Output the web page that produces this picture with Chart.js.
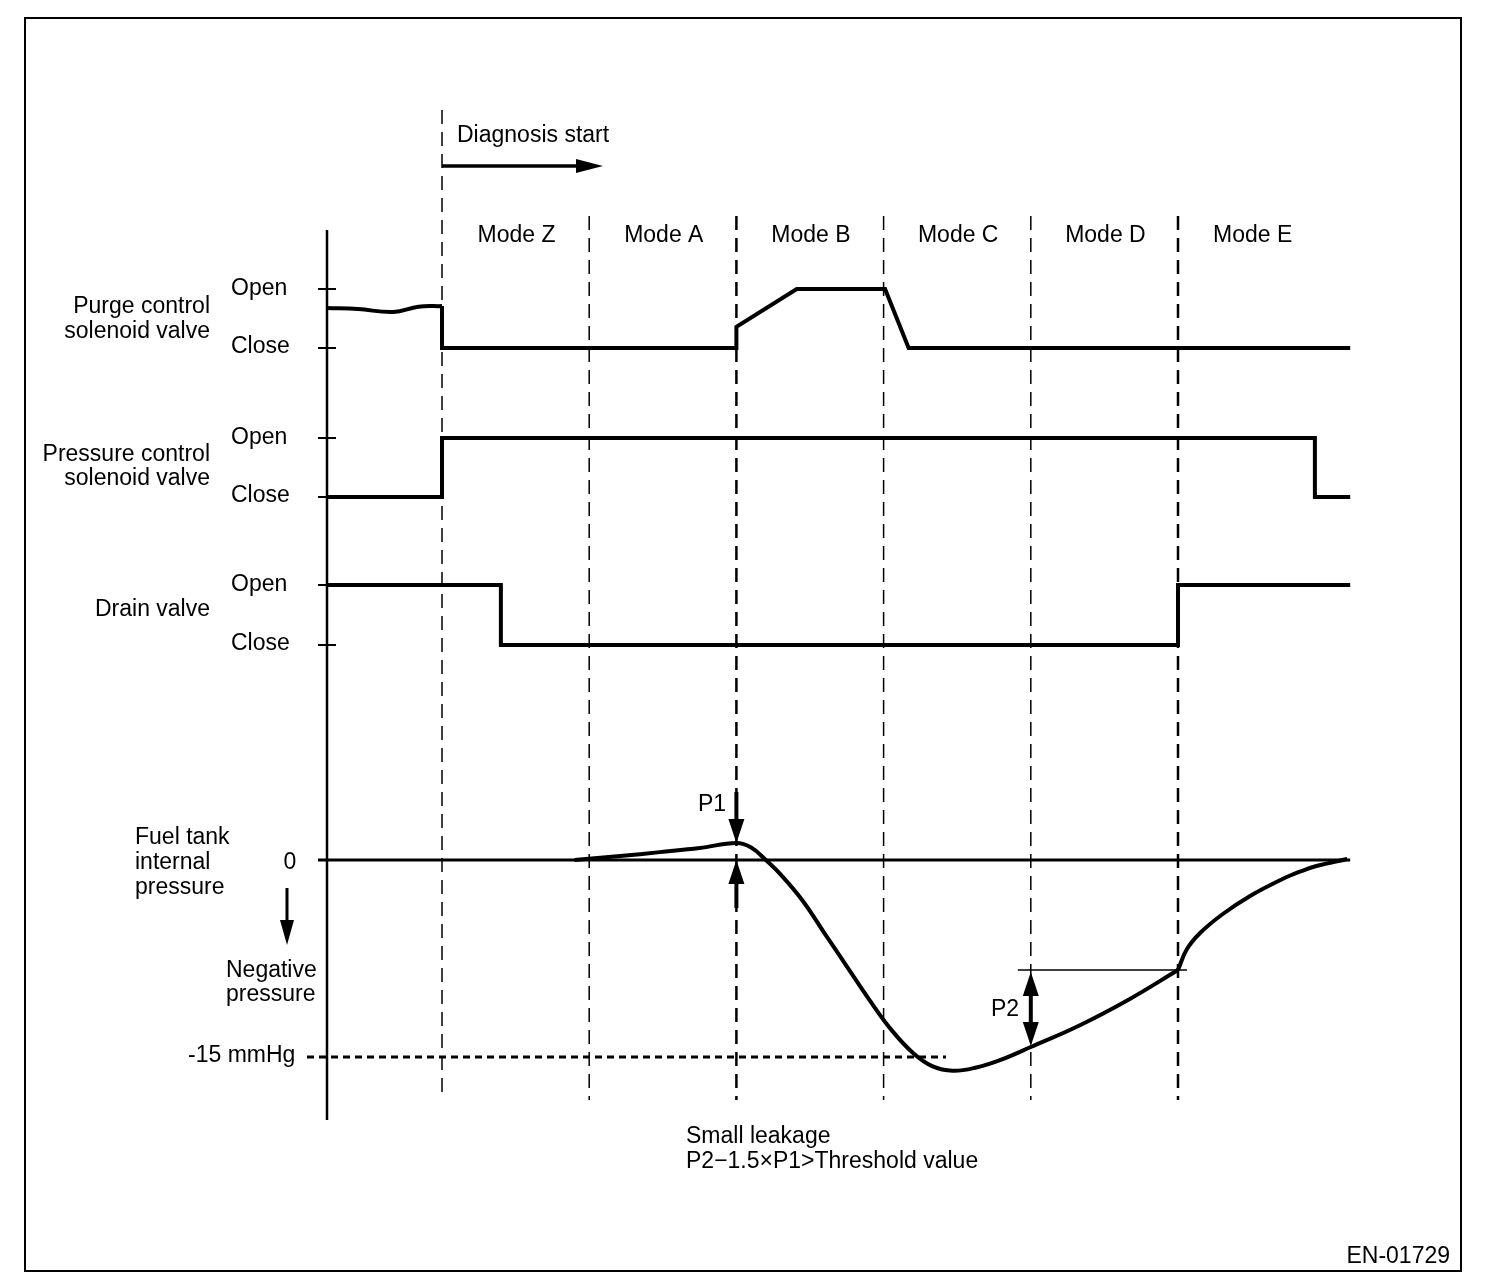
<!DOCTYPE html>
<html>
<head>
<meta charset="utf-8">
<script src="https://cdn.jsdelivr.net/npm/chart.js@4"></script>
<style>
  body { margin: 0; background: #fff; }
  canvas { display: block; }
</style>
</head>
<body>
<canvas id="myChart" width="1504" height="1288"></canvas>
<script>
// time axis: one unit = one mode, Mode Z starts at 0
const modeNames = ['Mode Z', 'Mode A', 'Mode B', 'Mode C', 'Mode D', 'Mode E'];
const modeEdges = [0, 1, 2, 3, 4, 5];

// valve states: 0 = Close, 1 = Open
// purge valve: wavy lead-in before diagnosis, then the step trace
const purgeLeadTime  = [-0.78, -0.57, -0.33, -0.16, 0];
const purgeLeadState = [0.68, 0.66, 0.61, 0.70, 0.71];
const purgeTime  = [0, 0, 2, 2, 2.41, 3.01, 3.17, 6.17];
const purgeState = [0.71, 0, 0, 0.36, 1, 1, 0, 0];

const pressTime  = [-0.78, 0, 0, 5.93, 5.93, 6.17];
const pressState = [0, 0, 1, 1, 0, 0];

const drainTime  = [-0.78, 0.40, 0.40, 5, 5, 6.17];
const drainState = [1, 1, 0, 0, 1, 1];

// fuel tank internal pressure, mmHg
const fuelTime  = [0.90, 1.21, 1.48, 1.75, 2.00, 2.10, 2.20, 2.30, 2.45, 2.60, 2.75, 2.90, 3.05, 3.20, 3.33, 3.47,
                   3.63, 3.80, 4.00, 4.33, 4.67, 5.00,
                   5.06, 5.15, 5.30, 5.49, 5.71, 5.83, 5.94, 6.15];
const fuelMmHg  = [0, 0.3, 0.6, 0.91, 1.29, 0.95, 0.0, -1.1, -3.1, -5.6, -8.1, -10.6, -12.9, -14.7, -15.7, -16.05,
                   -15.8, -15.2, -14.24, -12.6, -10.6, -8.38,
                   -6.8, -5.56, -4.15, -2.74, -1.45, -0.88, -0.46, 0.08];
const limitMmHg = -15;
const p1Time = 2, p2Time = 4, p2RefTime = 5;

// layout
const AREA = { left: 327, right: 1351, top: 100, bottom: 1120 };
const T0_PX = 442, PX_PER_T = 147.2;
const FONT = '23px "Liberation Sans", Arial, sans-serif';
const TEXT_DY = 2;

function yRange(zeroPx, pxPerUnit) {
    return { min: -(AREA.bottom - zeroPx) / pxPerUnit, max: (zeroPx - AREA.top) / pxPerUnit };
}
function pts(ts, vs) { return ts.map((t, i) => ({ x: t, y: vs[i] })); }
function fuelAt(t) { return fuelMmHg[fuelTime.indexOf(t)]; }

const rows = [
    { id: 'yPurge', range: yRange(348, 59), names: ['Purge control', 'solenoid valve'], nameY: [305, 330], ticks: [[1, 'Open'], [0, 'Close']] },
    { id: 'yPress', range: yRange(497, 59), names: ['Pressure control', 'solenoid valve'], nameY: [453, 477], ticks: [[1, 'Open'], [0, 'Close']] },
    { id: 'yDrain', range: yRange(645, 60), names: ['Drain valve'], nameY: [608], ticks: [[1, 'Open'], [0, 'Close']] },
    { id: 'yFuel', range: yRange(860, 13.13), names: [], nameY: [], ticks: [[0, '']] }
];

const lineStyle = { borderColor: '#000', borderWidth: 4, pointRadius: 0, fill: false, tension: 0, clip: false, borderJoinStyle: 'miter' };

const split = fuelTime.indexOf(p2RefTime);
const datasets = [
    Object.assign({}, lineStyle, { data: pts(purgeLeadTime, purgeLeadState), yAxisID: 'yPurge', tension: 0.4 }),
    Object.assign({}, lineStyle, { data: pts(purgeTime, purgeState), yAxisID: 'yPurge' }),
    Object.assign({}, lineStyle, { data: pts(pressTime, pressState), yAxisID: 'yPress' }),
    Object.assign({}, lineStyle, { data: pts(drainTime, drainState), yAxisID: 'yDrain' }),
    Object.assign({}, lineStyle, { data: pts(fuelTime.slice(0, split + 1), fuelMmHg.slice(0, split + 1)), yAxisID: 'yFuel', tension: 0.4, borderJoinStyle: 'round' }),
    Object.assign({}, lineStyle, { data: pts(fuelTime.slice(split), fuelMmHg.slice(split)), yAxisID: 'yFuel', tension: 0.4, borderJoinStyle: 'round' })
];

const scales = {
    x: { type: 'linear', display: false, min: (AREA.left - T0_PX) / PX_PER_T, max: (AREA.right - T0_PX) / PX_PER_T }
};
rows.forEach(r => { scales[r.id] = { type: 'linear', display: false, min: r.range.min, max: r.range.max }; });

function line(ctx, x1, y1, x2, y2, w, dash) {
    ctx.save();
    ctx.lineWidth = w;
    ctx.setLineDash(dash || []);
    ctx.beginPath();
    ctx.moveTo(x1, y1);
    ctx.lineTo(x2, y2);
    ctx.stroke();
    ctx.restore();
}
function arrowHead(ctx, x, y, dir, len, half) {
    // dir: 'down', 'up', 'right'
    ctx.beginPath();
    if (dir === 'down') { ctx.moveTo(x, y); ctx.lineTo(x - half, y - len); ctx.lineTo(x + half, y - len); }
    if (dir === 'up') { ctx.moveTo(x, y); ctx.lineTo(x - half, y + len); ctx.lineTo(x + half, y + len); }
    if (dir === 'right') { ctx.moveTo(x, y); ctx.lineTo(x - len, y - half); ctx.lineTo(x - len, y + half); }
    ctx.closePath();
    ctx.fill();
}
function text(ctx, s, x, y, align) {
    ctx.textAlign = align || 'left';
    ctx.fillText(s, x, y + TEXT_DY);
}

const backdrop = {
    id: 'backdrop',
    beforeDatasetsDraw(chart) {
        const ctx = chart.ctx;
        const xs = chart.scales.x;
        const fy = chart.scales.yFuel;
        ctx.save();
        ctx.strokeStyle = '#000';
        // mode separators
        modeEdges.forEach((t, i) => {
            const x = xs.getPixelForValue(t);
            const thick = (t === p1Time || t === p2RefTime);
            line(ctx, x, i === 0 ? 110 : 216, x, 1100, thick ? 2.5 : 1.5, [14, 8]);
        });
        // vertical axis
        const ax = xs.getPixelForValue(xs.min);
        line(ctx, ax, 230, ax, 1120, 2.5);
        // zero pressure line and -15 mmHg line
        line(ctx, ax - 9, fy.getPixelForValue(0), xs.getPixelForValue(6.17), fy.getPixelForValue(0), 3);
        line(ctx, 307, fy.getPixelForValue(limitMmHg), 946, fy.getPixelForValue(limitMmHg), 3, [7, 5]);
        ctx.restore();
    },
    afterDraw(chart) {
        const ctx = chart.ctx;
        const xs = chart.scales.x;
        const fy = chart.scales.yFuel;
        const ax = xs.getPixelForValue(xs.min);
        ctx.save();
        ctx.strokeStyle = '#000';
        ctx.fillStyle = '#000';
        ctx.font = FONT;
        ctx.textBaseline = 'middle';

        // outer frame
        ctx.lineWidth = 2;
        ctx.strokeRect(25, 18, 1436, 1253);

        // diagnosis start
        text(ctx, 'Diagnosis start', 457, 134);
        const x0 = xs.getPixelForValue(modeEdges[0]);
        line(ctx, x0, 166, 580, 166, 3.5);
        arrowHead(ctx, 603, 166, 'right', 27, 7);

        // mode names
        modeNames.forEach((m, i) => {
            const xa = xs.getPixelForValue(modeEdges[i]);
            const xb = i + 1 < modeEdges.length ? xs.getPixelForValue(modeEdges[i + 1]) : xa + PX_PER_T;
            text(ctx, m, (xa + xb) / 2 + 1, 234, 'center');
        });

        // row names, ticks, state labels
        rows.forEach(r => {
            const sc = chart.scales[r.id];
            r.names.forEach((n, i) => text(ctx, n, 210, r.nameY[i], 'right'));
            r.ticks.forEach(([v, lab]) => {
                const y = sc.getPixelForValue(v);
                line(ctx, ax - 9, y, ax + 9, y, 2);
                if (lab) text(ctx, lab, 231, v === 1 ? y - 2 : y - 3);
            });
        });

        // fuel tank labels
        const y0 = fy.getPixelForValue(0);
        text(ctx, 'Fuel tank', 135, 836);
        text(ctx, 'internal', 135, 861);
        text(ctx, 'pressure', 135, 886);
        text(ctx, '0', 290, y0 + 1, 'center');
        line(ctx, 287, 888, 287, 925, 3);
        arrowHead(ctx, 287, 945, 'down', 25, 7);
        text(ctx, 'Negative', 226, 969);
        text(ctx, 'pressure', 226, 993);
        text(ctx, '-15 mmHg', 188, fy.getPixelForValue(limitMmHg) - 3);

        // P1 arrows
        const px1 = xs.getPixelForValue(p1Time);
        const yPeak = fy.getPixelForValue(fuelAt(p1Time));
        text(ctx, 'P1', 698, 803);
        line(ctx, px1, 792, px1, yPeak - 18, 4);
        arrowHead(ctx, px1, yPeak, 'down', 24, 8);
        line(ctx, px1, y0 + 18, px1, 908, 4);
        arrowHead(ctx, px1, y0, 'up', 24, 8);

        // P2 arrows
        const px2 = xs.getPixelForValue(p2Time);
        const yRef = fy.getPixelForValue(fuelAt(p2RefTime));
        const yLow = fy.getPixelForValue(fuelAt(p2Time));
        line(ctx, px2 - 13, yRef, xs.getPixelForValue(p2RefTime) + 9, yRef, 1.5);
        line(ctx, px2, yRef + 18, px2, yLow - 18, 4);
        arrowHead(ctx, px2, yRef + 2, 'up', 24, 8);
        arrowHead(ctx, px2, yLow - 1, 'down', 24, 8);
        text(ctx, 'P2', 991, 1008);

        // note
        text(ctx, 'Small leakage', 686, 1135);
        text(ctx, 'P2\u22121.5\u00d7P1>Threshold value', 686, 1160);

        text(ctx, 'EN-01729', 1450, 1255, 'right');
        ctx.restore();
    }
};

const ctx = document.getElementById('myChart').getContext('2d');
const myChart = new Chart(ctx, {
    type: 'line',
    data: { datasets: datasets },
    options: {
        responsive: false,
        animation: false,
        events: [],
        layout: { padding: { left: AREA.left, right: 1504 - AREA.right, top: AREA.top, bottom: 1288 - AREA.bottom } },
        scales: scales,
        plugins: { legend: { display: false }, tooltip: { enabled: false }, title: { display: false } }
    },
    plugins: [backdrop]
});
</script>
</body>
</html>
